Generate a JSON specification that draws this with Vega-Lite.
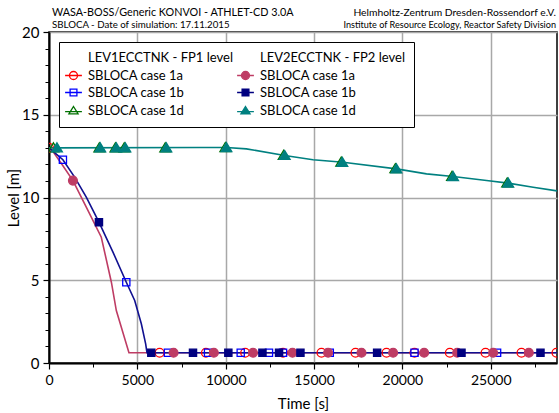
{
  "$schema": "https://vega.github.io/schema/vega-lite/v6.json",
  "width": 508,
  "height": 331,
  "autosize": {"type": "none"},
  "padding": {"left": 49, "top": 32, "right": 2, "bottom": 50},
  "background": "white",
  "config": {
    "font": "Lato",
    "view": {"stroke": "black", "strokeWidth": 1.5},
    "axis": {
      "labelFont": "Lato",
      "titleFont": "Lato",
      "labelColor": "black",
      "titleColor": "black",
      "tickColor": "black",
      "domainColor": "black",
      "titleFontWeight": "normal"
    }
  },
  "datasets": {
    "curves": [
      {"case": "1a", "t": 0, "level": 13.0},
      {"case": "1a", "t": 128, "level": 12.93},
      {"case": "1a", "t": 700, "level": 12.05},
      {"case": "1a", "t": 1355, "level": 11.02},
      {"case": "1a", "t": 2110, "level": 9.42},
      {"case": "1a", "t": 2960, "level": 7.6},
      {"case": "1a", "t": 3530, "level": 4.88},
      {"case": "1a", "t": 3810, "level": 3.17},
      {"case": "1a", "t": 4525, "level": 0.62},
      {"case": "1a", "t": 28750, "level": 0.62},
      {"case": "1b", "t": 0, "level": 13.0},
      {"case": "1b", "t": 787, "level": 12.28},
      {"case": "1b", "t": 1450, "level": 11.23},
      {"case": "1b", "t": 2110, "level": 10.02},
      {"case": "1b", "t": 2827, "level": 8.51},
      {"case": "1b", "t": 3620, "level": 6.7},
      {"case": "1b", "t": 4375, "level": 4.88},
      {"case": "1b", "t": 4850, "level": 3.78},
      {"case": "1b", "t": 5225, "level": 2.37},
      {"case": "1b", "t": 5470, "level": 1.16},
      {"case": "1b", "t": 5545, "level": 0.62},
      {"case": "1b", "t": 28750, "level": 0.62},
      {"case": "1d", "t": 0, "level": 13.0},
      {"case": "1d", "t": 8527, "level": 13.02},
      {"case": "1d", "t": 10040, "level": 13.02},
      {"case": "1d", "t": 11172, "level": 12.94},
      {"case": "1d", "t": 13340, "level": 12.54},
      {"case": "1d", "t": 14943, "level": 12.28},
      {"case": "1d", "t": 16642, "level": 12.13},
      {"case": "1d", "t": 19666, "level": 11.73},
      {"case": "1d", "t": 21365, "level": 11.43},
      {"case": "1d", "t": 22870, "level": 11.27},
      {"case": "1d", "t": 24762, "level": 11.03},
      {"case": "1d", "t": 25985, "level": 10.87},
      {"case": "1d", "t": 27400, "level": 10.62},
      {"case": "1d", "t": 28750, "level": 10.4}
    ],
    "markers": [
      {"series": "FP1 1a", "t": 0, "level": 13.0},
      {"series": "FP1 1a", "t": 6260, "level": 0.62},
      {"series": "FP1 1a", "t": 8880, "level": 0.62},
      {"series": "FP1 1a", "t": 11100, "level": 0.62},
      {"series": "FP1 1a", "t": 13245, "level": 0.62},
      {"series": "FP1 1a", "t": 15420, "level": 0.62},
      {"series": "FP1 1a", "t": 17345, "level": 0.62},
      {"series": "FP1 1a", "t": 19100, "level": 0.62},
      {"series": "FP1 1a", "t": 20685, "level": 0.62},
      {"series": "FP1 1a", "t": 22685, "level": 0.62},
      {"series": "FP1 1a", "t": 24705, "level": 0.62},
      {"series": "FP1 1a", "t": 26740, "level": 0.62},
      {"series": "FP1 1a", "t": 28720, "level": 0.62},
      {"series": "FP1 1b", "t": 787, "level": 12.28},
      {"series": "FP1 1b", "t": 4375, "level": 4.88},
      {"series": "FP1 1b", "t": 6730, "level": 0.62},
      {"series": "FP1 1b", "t": 9000, "level": 0.62},
      {"series": "FP1 1b", "t": 10850, "level": 0.62},
      {"series": "FP1 1b", "t": 12450, "level": 0.62},
      {"series": "FP1 1b", "t": 13245, "level": 0.62},
      {"series": "FP1 1b", "t": 15890, "level": 0.62},
      {"series": "FP1 1b", "t": 20685, "level": 0.62},
      {"series": "FP1 1b", "t": 25360, "level": 0.62},
      {"series": "FP1 1d", "t": 250, "level": 13.0},
      {"series": "FP1 1d", "t": 2850, "level": 13.0},
      {"series": "FP1 1d", "t": 3760, "level": 13.0},
      {"series": "FP1 1d", "t": 4260, "level": 13.0},
      {"series": "FP1 1d", "t": 6580, "level": 13.0},
      {"series": "FP1 1d", "t": 9980, "level": 13.02},
      {"series": "FP1 1d", "t": 13280, "level": 12.55},
      {"series": "FP1 1d", "t": 16540, "level": 12.14},
      {"series": "FP1 1d", "t": 19600, "level": 11.74},
      {"series": "FP1 1d", "t": 22810, "level": 11.28},
      {"series": "FP1 1d", "t": 25930, "level": 10.88},
      {"series": "FP2 1a", "t": 1355, "level": 11.02},
      {"series": "FP2 1a", "t": 7050, "level": 0.62},
      {"series": "FP2 1a", "t": 9330, "level": 0.62},
      {"series": "FP2 1a", "t": 11545, "level": 0.62},
      {"series": "FP2 1a", "t": 13780, "level": 0.62},
      {"series": "FP2 1a", "t": 15795, "level": 0.62},
      {"series": "FP2 1a", "t": 17685, "level": 0.62},
      {"series": "FP2 1a", "t": 19475, "level": 0.62},
      {"series": "FP2 1a", "t": 21230, "level": 0.62},
      {"series": "FP2 1a", "t": 23100, "level": 0.62},
      {"series": "FP2 1a", "t": 25135, "level": 0.62},
      {"series": "FP2 1a", "t": 27155, "level": 0.62},
      {"series": "FP2 1b", "t": 2827, "level": 8.51},
      {"series": "FP2 1b", "t": 5790, "level": 0.62},
      {"series": "FP2 1b", "t": 8150, "level": 0.62},
      {"series": "FP2 1b", "t": 10150, "level": 0.62},
      {"series": "FP2 1b", "t": 12080, "level": 0.62},
      {"series": "FP2 1b", "t": 13020, "level": 0.62},
      {"series": "FP2 1b", "t": 14230, "level": 0.62},
      {"series": "FP2 1b", "t": 18570, "level": 0.62},
      {"series": "FP2 1b", "t": 23345, "level": 0.62},
      {"series": "FP2 1b", "t": 27815, "level": 0.62},
      {"series": "FP2 1d", "t": 450, "level": 13.0},
      {"series": "FP2 1d", "t": 2900, "level": 13.0},
      {"series": "FP2 1d", "t": 3810, "level": 13.0},
      {"series": "FP2 1d", "t": 4320, "level": 13.0},
      {"series": "FP2 1d", "t": 6640, "level": 13.0},
      {"series": "FP2 1d", "t": 10040, "level": 13.02},
      {"series": "FP2 1d", "t": 13340, "level": 12.54},
      {"series": "FP2 1d", "t": 16600, "level": 12.13},
      {"series": "FP2 1d", "t": 19660, "level": 11.73},
      {"series": "FP2 1d", "t": 22870, "level": 11.27},
      {"series": "FP2 1d", "t": 25990, "level": 10.87}
    ]
  },
  "resolve": {
    "axis": {"x": "independent", "y": "independent"},
    "scale": {"shape": "independent", "stroke": "independent", "fill": "independent"}
  },
  "layer": [
    {
      "data": {"name": "curves"},
      "mark": {"type": "point", "opacity": 0},
      "encoding": {
        "x": {"field": "t", "type": "quantitative", "scale": {"domain": [0, 28750], "nice": false, "zero": false},
          "axis": {"orient": "bottom", "values": [2500, 7500, 12500, 17500, 22500, 27500], "labels": false, "grid": false, "domain": false, "ticks": true, "tickSize": 4, "tickWidth": 1, "title": null}},
        "y": {"field": "level", "type": "quantitative", "scale": {"domain": [0, 20], "nice": false, "zero": false},
          "axis": {"orient": "left", "values": [1, 2, 3, 4, 6, 7, 8, 9, 11, 12, 13, 14, 16, 17, 18, 19], "labels": false, "grid": false, "domain": false, "ticks": true, "tickSize": 4, "tickWidth": 1, "title": null}}
      }
    },
    {
      "data": {"name": "curves"},
      "mark": {"type": "line", "strokeWidth": 1.6, "clip": true},
      "encoding": {
        "x": {"field": "t", "type": "quantitative",
          "axis": {"orient": "bottom", "values": [0, 5000, 10000, 15000, 20000, 25000], "grid": true, "gridColor": "#a8a8a8", "gridWidth": 1.5, "tickSize": 6, "tickWidth": 1.2, "domainWidth": 2, "labelFontSize": 14, "labelPadding": 4, "title": "Time [s]", "titleFontSize": 15, "titlePadding": 9, "format": "d", "labelFlush": false}},
        "y": {"field": "level", "type": "quantitative",
          "axis": {"orient": "left", "values": [0, 5, 10, 15, 20], "grid": true, "gridColor": "#a8a8a8", "gridWidth": 1.5, "tickSize": 6, "tickWidth": 1.2, "domainWidth": 2, "labelFontSize": 15, "labelPadding": 4, "title": "Level [m]", "titleFontSize": 15, "titlePadding": 0, "labelFlush": false}},
        "color": {"field": "case", "type": "nominal", "scale": {"domain": ["1a", "1b", "1d"], "range": ["#BE3C64", "#101090", "#008080"]}, "legend": null},
        "order": {"field": "t", "type": "quantitative"}
      }
    },
    {
      "data": {"name": "markers"},
      "mark": {"type": "point", "opacity": 1, "strokeWidth": 1.3, "size": 64, "clip": true},
      "encoding": {
        "x": {"field": "t", "type": "quantitative", "axis": null},
        "y": {"field": "level", "type": "quantitative", "axis": null},
        "shape": {"field": "series", "type": "nominal", "legend": null,
          "scale": {"domain": ["H1", "FP1 1a", "FP1 1b", "FP1 1d", "H2", "FP2 1a", "FP2 1b", "FP2 1d"],
            "range": ["M0,0H0", "M1.1,0A1.1,1.1,0,1,1,-1.1,0A1.1,1.1,0,1,1,1.1,0Z", "M-0.9,-0.9H0.9V0.9H-0.9Z", "M0,-1.25L1.35,1H-1.35Z", "M0,0H0", "M1.1,0A1.1,1.1,0,1,1,-1.1,0A1.1,1.1,0,1,1,1.1,0Z", "M-0.9,-0.9H0.9V0.9H-0.9Z", "M0,-1.25L1.35,1H-1.35Z"]}},
        "stroke": {"field": "series", "type": "nominal", "legend": null,
          "scale": {"domain": ["H1", "FP1 1a", "FP1 1b", "FP1 1d", "H2", "FP2 1a", "FP2 1b", "FP2 1d"],
            "range": ["white", "#FF0000", "#0000FF", "#007000", "white", "#BE3C64", "#000080", "#008080"]}},
        "fill": {"field": "series", "type": "nominal", "legend": null,
          "scale": {"domain": ["H1", "FP1 1a", "FP1 1b", "FP1 1d", "H2", "FP2 1a", "FP2 1b", "FP2 1d"],
            "range": ["transparent", "transparent", "transparent", "transparent", "transparent", "#BE3C64", "#000080", "#008080"]}}
      }
    },
    {
      "data": {"values": []},
      "mark": {"type": "point", "opacity": 1, "strokeWidth": 1.3, "size": 64},
      "encoding": {
        "x": {"field": "t", "type": "quantitative", "axis": null},
        "y": {"field": "level", "type": "quantitative", "axis": null},
        "shape": {"field": "series", "type": "nominal",
          "scale": {"domain": ["H1", "FP1 1a", "FP1 1b", "FP1 1d", "H2", "FP2 1a", "FP2 1b", "FP2 1d"],
            "range": ["M0,0H0", "M-2.1,0H2.1M1,0A1,1,0,1,1,-1,0A1,1,0,1,1,1,0Z", "M-2.1,0H2.1M-0.85,-0.85H0.85V0.85H-0.85Z", "M-2.1,0.3H2.1M0,-1L1.15,0.85H-1.15Z", "M0,0H0", "M-2.1,0H2.1M1,0A1,1,0,1,1,-1,0A1,1,0,1,1,1,0Z", "M-2.1,0H2.1M-0.85,-0.85H0.85V0.85H-0.85Z", "M-2.1,0.3H2.1M0,-1L1.15,0.85H-1.15Z"]},
          "legend": {"title": null, "orient": "top-left", "offset": 10, "columns": 2, "columnPadding": 1, "rowPadding": 3, "padding": 9,
            "fillColor": "white", "strokeColor": "black",
            "labelFont": "Lato", "labelFontSize": 13, "labelColor": "black", "labelLimit": 300, "labelOffset": 8,
            "symbolSize": 64, "symbolStrokeWidth": 1.3, "symbolOffset": -1,
            "labelExpr": "datum.value == 'H1' ? 'LEV1ECCTNK - FP1 level' : datum.value == 'H2' ? 'LEV2ECCTNK - FP2 level' : 'SBLOCA case ' + slice(datum.value, 4)"}},
        "stroke": {"field": "series", "type": "nominal",
          "scale": {"domain": ["H1", "FP1 1a", "FP1 1b", "FP1 1d", "H2", "FP2 1a", "FP2 1b", "FP2 1d"],
            "range": ["white", "#FF0000", "#0000FF", "#007000", "white", "#BE3C64", "#000080", "#008080"]},
          "legend": {"title": null, "orient": "top-left", "offset": 10, "columns": 2, "columnPadding": 1, "rowPadding": 3, "padding": 9,
            "fillColor": "white", "strokeColor": "black",
            "labelFont": "Lato", "labelFontSize": 13, "labelColor": "black", "labelLimit": 300, "labelOffset": 8,
            "symbolSize": 64, "symbolStrokeWidth": 1.3, "symbolOffset": -1,
            "labelExpr": "datum.value == 'H1' ? 'LEV1ECCTNK - FP1 level' : datum.value == 'H2' ? 'LEV2ECCTNK - FP2 level' : 'SBLOCA case ' + slice(datum.value, 4)"}},
        "fill": {"field": "series", "type": "nominal",
          "scale": {"domain": ["H1", "FP1 1a", "FP1 1b", "FP1 1d", "H2", "FP2 1a", "FP2 1b", "FP2 1d"],
            "range": ["transparent", "transparent", "transparent", "transparent", "transparent", "#BE3C64", "#000080", "#008080"]},
          "legend": {"title": null, "orient": "top-left", "offset": 10, "columns": 2, "columnPadding": 1, "rowPadding": 3, "padding": 9,
            "fillColor": "white", "strokeColor": "black",
            "labelFont": "Lato", "labelFontSize": 13, "labelColor": "black", "labelLimit": 300, "labelOffset": 8,
            "symbolSize": 64, "symbolStrokeWidth": 1.3, "symbolOffset": -1,
            "labelExpr": "datum.value == 'H1' ? 'LEV1ECCTNK - FP1 level' : datum.value == 'H2' ? 'LEV2ECCTNK - FP2 level' : 'SBLOCA case ' + slice(datum.value, 4)"}}
      }
    },
    {
      "data": {"values": [{}]},
      "mark": {"type": "text", "align": "left", "baseline": "middle", "fontSize": 10.8, "font": "Lato", "color": "black", "dx": 3},
      "encoding": {
        "x": {"datum": 0, "type": "quantitative", "axis": null},
        "y": {"datum": 21.15, "type": "quantitative", "axis": null},
        "text": {"value": "WASA-BOSS/Generic KONVOI - ATHLET-CD 3.0A"}
      }
    },
    {
      "data": {"values": [{}]},
      "mark": {"type": "text", "align": "left", "baseline": "middle", "fontSize": 9.7, "font": "Lato", "color": "black", "dx": 3},
      "encoding": {
        "x": {"datum": 0, "type": "quantitative", "axis": null},
        "y": {"datum": 20.4, "type": "quantitative", "axis": null},
        "text": {"value": "SBLOCA - Date of simulation: 17.11.2015"}
      }
    },
    {
      "data": {"values": [{}]},
      "mark": {"type": "text", "align": "right", "baseline": "middle", "fontSize": 10.3, "font": "Lato", "color": "black", "dx": -1},
      "encoding": {
        "x": {"datum": 28750, "type": "quantitative", "axis": null},
        "y": {"datum": 21.15, "type": "quantitative", "axis": null},
        "text": {"value": "Helmholtz-Zentrum Dresden-Rossendorf e.V."}
      }
    },
    {
      "data": {"values": [{}]},
      "mark": {"type": "text", "align": "right", "baseline": "middle", "fontSize": 9.1, "font": "Lato", "color": "black", "dx": -1},
      "encoding": {
        "x": {"datum": 28750, "type": "quantitative", "axis": null},
        "y": {"datum": 20.4, "type": "quantitative", "axis": null},
        "text": {"value": "Institute of Resource Ecology, Reactor Safety Division"}
      }
    }
  ]
}
